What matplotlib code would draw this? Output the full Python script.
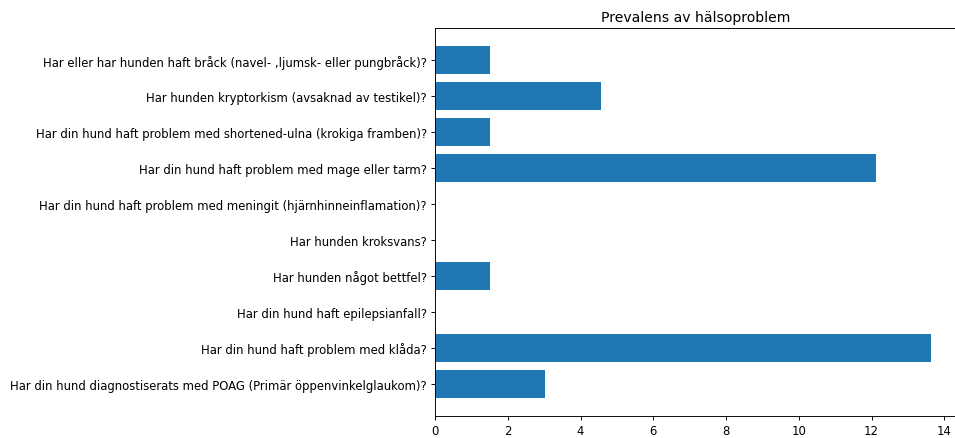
import matplotlib
matplotlib.use("Agg")
import matplotlib.pyplot as plt

questions = [
    "Har din hund diagnostiserats med POAG (Primär öppenvinkelglaukom)?",
    "Har din hund haft problem med klåda?",
    "Har din hund haft epilepsianfall?",
    "Har hunden något bettfel?",
    "Har hunden kroksvans?",
    "Har din hund haft problem med meningit (hjärnhinneinflamation)?",
    "Har din hund haft problem med mage eller tarm?",
    "Har din hund haft problem med shortened-ulna (krokiga framben)?",
    "Har hunden kryptorkism (avsaknad av testikel)?",
    "Har eller har hunden haft bråck (navel- ,ljumsk- eller pungbråck)?",
]
prevalence = [3.03, 13.64, 0.0, 1.52, 0.0, 0.0, 12.12, 1.52, 4.55, 1.52]

# the reference looks like a downscaled render, so shrink text and ticks
s = 0.84
plt.rcParams.update({
    "font.size": 10 * s,
    "axes.linewidth": 0.8 * s,
    "xtick.major.size": 3.5 * s,
    "ytick.major.size": 3.5 * s,
    "xtick.major.width": 0.8 * s,
    "ytick.major.width": 0.8 * s,
    "xtick.major.pad": 3.5 * s,
    "ytick.major.pad": 3.5 * s,
    "axes.titlepad": 6 * s,
})

fig = plt.figure(figsize=(9.55, 4.39), dpi=100)
ax = fig.add_axes([435 / 955, 1 - 417 / 439, 521 / 955, 388 / 439])

ax.barh(questions, prevalence, color="#1f77b4")
ax.set_title("Prevalens av hälsoproblem", fontsize=12 * s)

fig.savefig("out.png", dpi=100)
